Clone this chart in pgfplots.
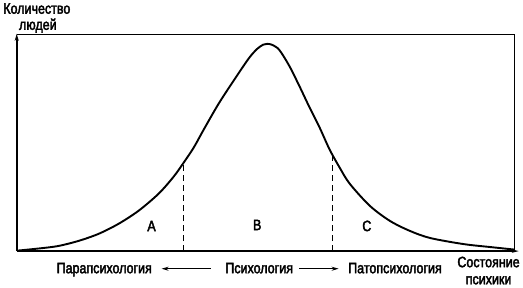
\documentclass[border=0pt]{standalone}
\usepackage{pgfplots}
\pgfplotsset{compat=1.18}
\usetikzlibrary{arrows.meta}
\usepackage{fontspec}
\setmainfont{Liberation Sans}[FakeBold=2.6, FakeStretch=0.83]
\newcommand{\lbl}{\fontsize{15}{17}\selectfont}
\begin{document}
\begin{tikzpicture}
\begin{axis}[
  width=523bp, height=291bp, scale only axis,
  xmin=0, xmax=523, ymin=0, ymax=291, y dir=reverse,
  hide axis, clip=false,
]
% frame
\draw[line width=1.1pt] (axis cs:19,35) -- (axis cs:514,35) -- (axis cs:514,250);
\draw[line width=1.7pt,-{Stealth[length=7pt,width=4pt]}] (axis cs:19,250) -- (axis cs:19,34);
\draw[line width=1.4pt,-{Stealth[length=7pt,width=3.5pt]}] (axis cs:19,250) -- (axis cs:518,250);
% curve
\addplot[black, line width=1.9pt, smooth, tension=0.5] coordinates {
(20,249.5) (40,247.5) (60,245) (80,240) (100,233) (120,223) (140,210)
(160,193) (175,176) (185,162) (195,147) (205,129) (220,103) (237,77)
(250,58) (258,49) (264,44.8) (268,44) (273,45) (280,50) (290,66)
(300,86) (310,107) (320,127) (330,149) (340,167) (350,183) (370,205)
(390,220) (410,230) (430,237) (463,243) (490,246) (514,248.5)
};
% dashed separators
\addplot[black, line width=1.3pt, dash pattern=on 6pt off 4pt] coordinates {(185,250) (185,162)};
\addplot[black, line width=1.3pt, dash pattern=on 6pt off 4pt] coordinates {(333,250) (333,155)};
% region labels
\node[font=\lbl] at (axis cs:153,225) {А};
\node[font=\lbl] at (axis cs:258,224) {В};
\node[font=\lbl] at (axis cs:367,225) {С};
% axis titles
\node[font=\lbl, anchor=base] at (axis cs:39,14) {Количество};
\node[font=\lbl, anchor=base] at (axis cs:40,30) {людей};
\node[font=\lbl, anchor=base] at (axis cs:488,266) {Состояние};
\node[font=\lbl, anchor=base] at (axis cs:488,283) {психики};
% bottom labels
\node[font=\lbl, anchor=base] at (axis cs:106,272) {Парапсихология};
\node[font=\lbl, anchor=base] at (axis cs:260,272) {Психология};
\node[font=\lbl, anchor=base] at (axis cs:395,272) {Патопсихология};
\draw[line width=1.1pt,-{Stealth[length=7pt,width=4pt]}] (axis cs:212,267.5) -- (axis cs:163,267.5);
\draw[line width=1.1pt,-{Stealth[length=7pt,width=4pt]}] (axis cs:300,267.5) -- (axis cs:339,267.5);
\end{axis}
\end{tikzpicture}
\end{document}
